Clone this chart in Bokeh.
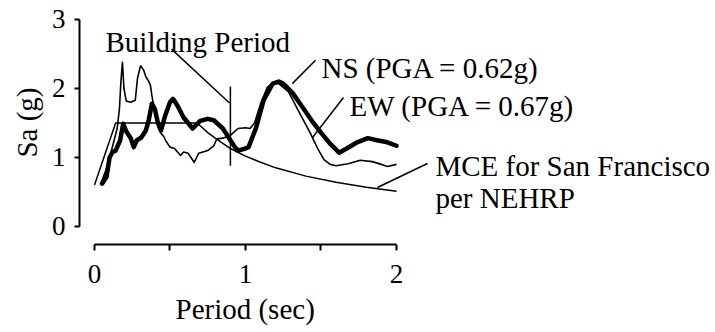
from bokeh.plotting import figure
from bokeh.models import Range1d, FixedTicker, Title
from bokeh.core.properties import value
from bokeh.embed import file_html
from bokeh.resources import INLINE

# ---- data ----
ns_period = [0.05, 0.08, 0.10, 0.12, 0.14, 0.17, 0.19, 0.21, 0.24, 0.26, 0.28, 0.31,
             0.34, 0.36, 0.38, 0.40, 0.42, 0.44, 0.47, 0.50, 0.52, 0.55, 0.59, 0.65,
             0.70, 0.75, 0.79, 0.85, 0.88, 0.90, 0.93, 0.95, 1.00, 1.02, 1.07, 1.12,
             1.18, 1.22, 1.25, 1.31, 1.38, 1.45, 1.50, 1.56, 1.62, 1.67, 1.74, 1.81,
             1.87, 1.94, 2.00]
ns_sa = [0.62, 0.72, 1.00, 1.08, 1.10, 1.25, 1.49, 1.38, 1.28, 1.15, 1.25, 1.29,
         1.39, 1.55, 1.78, 1.70, 1.50, 1.39, 1.62, 1.80, 1.85, 1.75, 1.58, 1.42,
         1.53, 1.56, 1.54, 1.42, 1.32, 1.25, 1.15, 1.10, 1.13, 1.15, 1.43, 1.83,
         2.07, 2.10, 2.07, 1.94, 1.72, 1.50, 1.36, 1.20, 1.07, 1.13, 1.22, 1.28,
         1.25, 1.22, 1.17]

ew_period = [0.04, 0.07, 0.10, 0.13, 0.15, 0.165, 0.175, 0.185, 0.195, 0.21, 0.24,
             0.27, 0.285, 0.305, 0.325, 0.34, 0.355, 0.37, 0.38, 0.40, 0.42, 0.44,
             0.46, 0.47, 0.50, 0.53, 0.57, 0.59, 0.62, 0.66, 0.69, 0.75, 0.79, 0.81,
             0.85, 0.90, 0.95, 1.00, 1.03, 1.06, 1.10, 1.145, 1.19, 1.22, 1.285,
             1.35, 1.43, 1.48, 1.52, 1.56, 1.60, 1.68, 1.76, 1.84, 1.90, 1.94, 2.00]
ew_sa = [0.62, 0.78, 1.00, 1.25, 1.42, 1.70, 2.10, 2.38, 2.00, 1.82, 1.80,
         1.83, 2.15, 2.33, 2.27, 2.17, 2.12, 2.05, 1.90, 1.65, 1.45, 1.35,
         1.30, 1.25, 1.15, 1.13, 1.03, 1.08, 1.06, 0.93, 1.06, 1.10, 1.17, 1.27,
         1.28, 1.32, 1.42, 1.43, 1.42, 1.50, 1.78, 2.02, 2.09, 2.07, 1.95,
         1.68, 1.35, 1.12, 0.97, 0.90, 0.88, 0.91, 0.96, 0.94, 0.90, 0.87, 0.90]

mce_period = [0.0, 0.14, 0.68, 0.75, 0.80, 0.90, 1.00, 1.10, 1.20, 1.40, 1.60, 1.80, 2.00]
mce_sa = [0.60, 1.50, 1.50, 1.36, 1.28, 1.13, 1.02, 0.93, 0.85, 0.73, 0.64, 0.57, 0.51]

building_period = 0.9
building_sa = [0.88, 2.03]

x_ticks = [0, 1, 2]
x_minor_ticks = [0.5, 1.5]
y_ticks = [0, 1, 2, 3]

x_title = "Period (sec)"
y_title = "Sa (g)"

labels = ["Building Period", "NS (PGA = 0.62g)", "EW (PGA = 0.67g)",
          "MCE for San Francisco", "per NEHRP"]
label_x = [0.073, 1.503, 1.689, 2.258, 2.258]
label_y = [2.68, 2.30, 1.74, 0.87, 0.42]

# leader lines: start (near text) -> end (at curve)
lead_x0 = [0.51, 1.464, 1.649, 2.205]
lead_y0 = [2.57, 2.41, 1.87, 0.913]
lead_x1 = [0.894, 1.31, 1.444, 1.874]
lead_y1 = [1.79, 2.07, 1.29, 0.565]

FONT = "Liberation Serif"

p = figure(width=715, height=332, output_backend="svg", toolbar_location=None,
           x_range=Range1d(-0.0993, 4.1126), y_range=Range1d(-0.261, 3.275),
           min_border_left=79, min_border_right=0, min_border_top=0,
           min_border_bottom=88)
p.outline_line_color = None
p.grid.visible = False
p.background_fill_color = "white"
p.border_fill_color = "white"

# x axis
xa = p.xaxis[0]
xa.bounds = (0, 2)
xa.ticker = FixedTicker(ticks=x_ticks, minor_ticks=x_minor_ticks)
xa.axis_line_width = 2
xa.major_tick_line_width = 2
xa.minor_tick_line_width = 2
xa.major_tick_in = 0
xa.major_tick_out = 6
xa.minor_tick_in = 0
xa.minor_tick_out = 6
xa.major_label_standoff = 14
xa.major_label_text_font = FONT
xa.major_label_text_font_size = "27px"
xa.major_label_text_color = "black"

# x title centred under the axis (0..2), as a title panel below the axis
p.add_layout(Title(text=x_title, align="left", offset=96, standoff=11,
                   text_font=FONT, text_font_size="29px", text_font_style="normal",
                   text_color="black"), "below")

# y axis
ya = p.yaxis[0]
ya.bounds = (0, 3)
ya.ticker = FixedTicker(ticks=y_ticks)
ya.axis_line_width = 2
ya.major_tick_line_width = 2
ya.minor_tick_line_color = None
ya.major_tick_in = 0
ya.major_tick_out = 5
ya.major_label_standoff = 9
ya.major_label_text_font = FONT
ya.major_label_text_font_size = "27px"
ya.major_label_text_color = "black"
ya.axis_label = y_title
ya.axis_label_text_font = FONT
ya.axis_label_text_font_size = "29px"
ya.axis_label_text_font_style = "normal"
ya.axis_label_text_color = "black"
ya.axis_label_standoff = 6

# curves
p.line(mce_period, mce_sa, line_color="black", line_width=1.5)
p.line(ew_period, ew_sa, line_color="black", line_width=1.6, line_join="round")
p.line(ns_period, ns_sa, line_color="black", line_width=4.5, line_join="round",
       line_cap="round")

# building period marker
p.segment(x0=[building_period], y0=[building_sa[0]], x1=[building_period],
          y1=[building_sa[1]], line_color="black", line_width=1.5)

# leader lines
p.segment(x0=lead_x0, y0=lead_y0, x1=lead_x1, y1=lead_y1, line_color="black",
          line_width=1.5)

# annotation texts
p.text(x=label_x, y=label_y, text=labels, text_font=value(FONT),
       text_font_size="29px", text_color="black", text_align="left",
       text_baseline="alphabetic")

open("out.html", "w").write(file_html(p, INLINE))
